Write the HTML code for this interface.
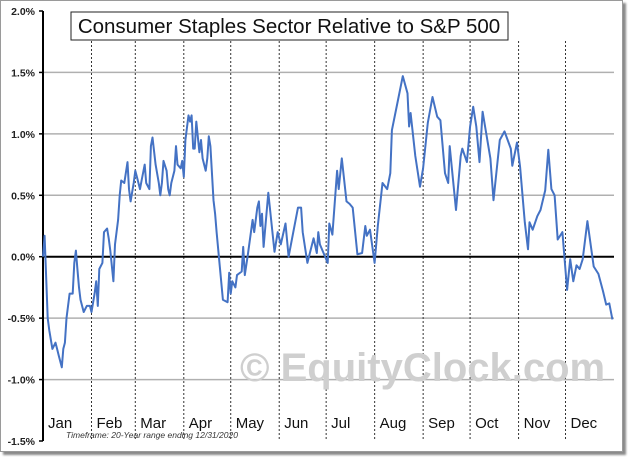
<!DOCTYPE html>
<html><head><meta charset="utf-8"><style>
body{margin:0;background:#fff;width:628px;height:457px;overflow:hidden;font-family:"Liberation Sans",sans-serif}
#frame{position:absolute;left:0;top:0;width:621px;height:450px;border:1px solid #9a9a9a;box-shadow:3px 3px 2px #8a8a8a;background:#fff}
</style></head><body>
<div id="frame"></div>
<svg id="chart" width="628" height="457" style="position:absolute;left:0;top:0"></svg>
<script>
const monthLabels=["Jan","Feb","Mar","Apr","May","Jun","Jul","Aug","Sep","Oct","Nov","Dec"];
const monthStartDays=[0,31,59,90,120,151,181,212,243,273,304,334];
const yTicks=[2.0,1.5,1.0,0.5,0.0,-0.5,-1.0,-1.5];
const days=[0,1,3,4,6,8,9,10,12,13,14,15,17,19,20,21,22,23,24,26,28,30,31,33,34,35,36,38,39,41,42,43,45,46,48,49,50,52,54,55,56,58,59,60,62,63,65,66,68,69,70,72,74,75,76,77,79,80,81,82,84,85,86,88,89,90,91,93,94,95,96,97,98,100,101,102,104,105,106,107,109,110,111,113,115,118,119,120,121,123,124,127,128,129,131,134,135,137,138,139,140,141,144,148,150,152,155,157,160,163,165,166,169,173,175,176,177,182,183,185,188,189,191,194,196,198,201,204,206,207,209,212,214,217,220,222,223,227,230,233,234,235,238,241,243,246,249,252,254,257,259,260,264,267,268,271,273,275,277,279,281,286,288,292,295,299,300,303,305,308,310,311,313,316,318,321,323,325,327,329,332,335,337,339,341,343,345,348,352,355,358,360,362,364];
const values=[0,0.17,-0.5,-0.6,-0.75,-0.7,-0.75,-0.8,-0.9,-0.75,-0.7,-0.5,-0.3,-0.3,-0.05,0.05,-0.1,-0.25,-0.35,-0.45,-0.4,-0.4,-0.45,-0.3,-0.2,-0.4,-0.1,-0.05,0.2,0.23,0.15,0.05,-0.2,0.1,0.3,0.5,0.62,0.6,0.77,0.55,0.45,0.6,0.7,0.65,0.55,0.62,0.75,0.6,0.55,0.9,0.97,0.75,0.6,0.5,0.6,0.78,0.7,0.55,0.5,0.6,0.7,0.9,0.75,0.72,0.78,0.65,0.95,1.15,1.1,1.15,0.88,0.88,1.1,0.85,0.95,0.8,0.7,0.8,0.98,0.9,0.46,0.35,0.2,-0.08,-0.35,-0.37,-0.13,-0.3,-0.2,-0.25,-0.15,-0.12,0.08,-0.15,0.02,0.3,0.2,0.4,0.45,0.25,0.35,0.08,0.52,0.04,0.2,0.1,0.27,0.0,0.2,0.4,0.4,0.2,-0.05,0.15,0.03,0.2,0.1,-0.05,0.27,0.18,0.7,0.55,0.8,0.45,0.43,0.4,0.02,0.03,0.25,0.17,0.22,-0.05,0.25,0.6,0.55,0.68,1.03,1.28,1.47,1.33,1.06,1.17,0.82,0.57,0.72,1.09,1.3,1.14,1.11,0.68,0.6,0.9,0.38,0.82,0.88,0.77,1.06,1.22,1.06,0.77,1.18,0.8,0.46,0.95,1.02,0.88,0.74,0.93,0.73,0.28,0.06,0.28,0.22,0.33,0.38,0.54,0.87,0.55,0.5,0.14,0.2,-0.27,-0.02,-0.2,-0.07,-0.1,-0.02,0.29,-0.08,-0.14,-0.28,-0.39,-0.38,-0.51];

const L=43,R=614,T=11,B=441,ymin=-1.5,ymax=2.0,dayMax=365;
const xs=d=>L+d*(R-L)/dayMax;
const ys=v=>T+(ymax-v)*(B-T)/(ymax-ymin);
const svg=document.getElementById('chart');
const NS='http://www.w3.org/2000/svg';
function mk(tag,attrs){const e=document.createElementNS(NS,tag);for(const k in attrs)e.setAttribute(k,attrs[k]);svg.appendChild(e);return e;}

yTicks.forEach(t=>{
  if(t!==0&&t!==ymax&&t!==ymin){const g=mk('line',{x1:L,x2:R,y1:ys(t),y2:ys(t),stroke:'#b0b0b0','stroke-width':1.5});
  
  }
  const lb=mk('text',{x:35,y:ys(t)+4,'text-anchor':'end','font-size':'10.5','font-weight':'bold',fill:'#222'});
  lb.textContent=t.toFixed(1)+'%';
  
  
  const tk=mk('line',{x1:L-4,x2:L,y1:ys(t),y2:ys(t),stroke:'#000','stroke-width':1.5});
  
  
});
monthStartDays.forEach((d,i)=>{
  if(i>0){const v=mk('line',{x1:xs(d),x2:xs(d),y1:T+30,y2:B,stroke:'#333','stroke-width':1,'stroke-dasharray':'2,2'});
  
  }
  const lb=mk('text',{x:xs(d)+5,y:428,'font-size':'15',fill:'#111'});
  lb.textContent=monthLabels[i];
  
  
});
const wm=mk('text',{x:240,y:381,'font-size':'40','font-weight':'bold',fill:'#cfcfcf'});
wm.textContent='© EquityClock.com';


const z=mk('line',{x1:L,x2:R,y1:ys(0),y2:ys(0),stroke:'#000','stroke-width':2});


const ax=mk('line',{x1:L,x2:L,y1:T,y2:B,stroke:'#000','stroke-width':2});


const pts=days.map((d,i)=>xs(d).toFixed(1)+','+ys(values[i]).toFixed(1)).join(' ');
const pl=mk('polyline',{points:pts,fill:'none',stroke:'#4472c4','stroke-width':2,'stroke-linejoin':'round'});


const tb=mk('rect',{x:71,y:12,width:437,height:28,fill:'#fff',stroke:'#222','stroke-width':1});


const tt=mk('text',{x:289,y:33,'text-anchor':'middle','font-size':'20.5',fill:'#111'});
tt.textContent='Consumer Staples Sector Relative to S&P 500';


const tf=mk('text',{x:66,y:438,'font-size':'8.5','font-style':'italic',fill:'#333'});
tf.textContent='Timeframe: 20-Year range ending 12/31/2020';


</script>
</body></html>
